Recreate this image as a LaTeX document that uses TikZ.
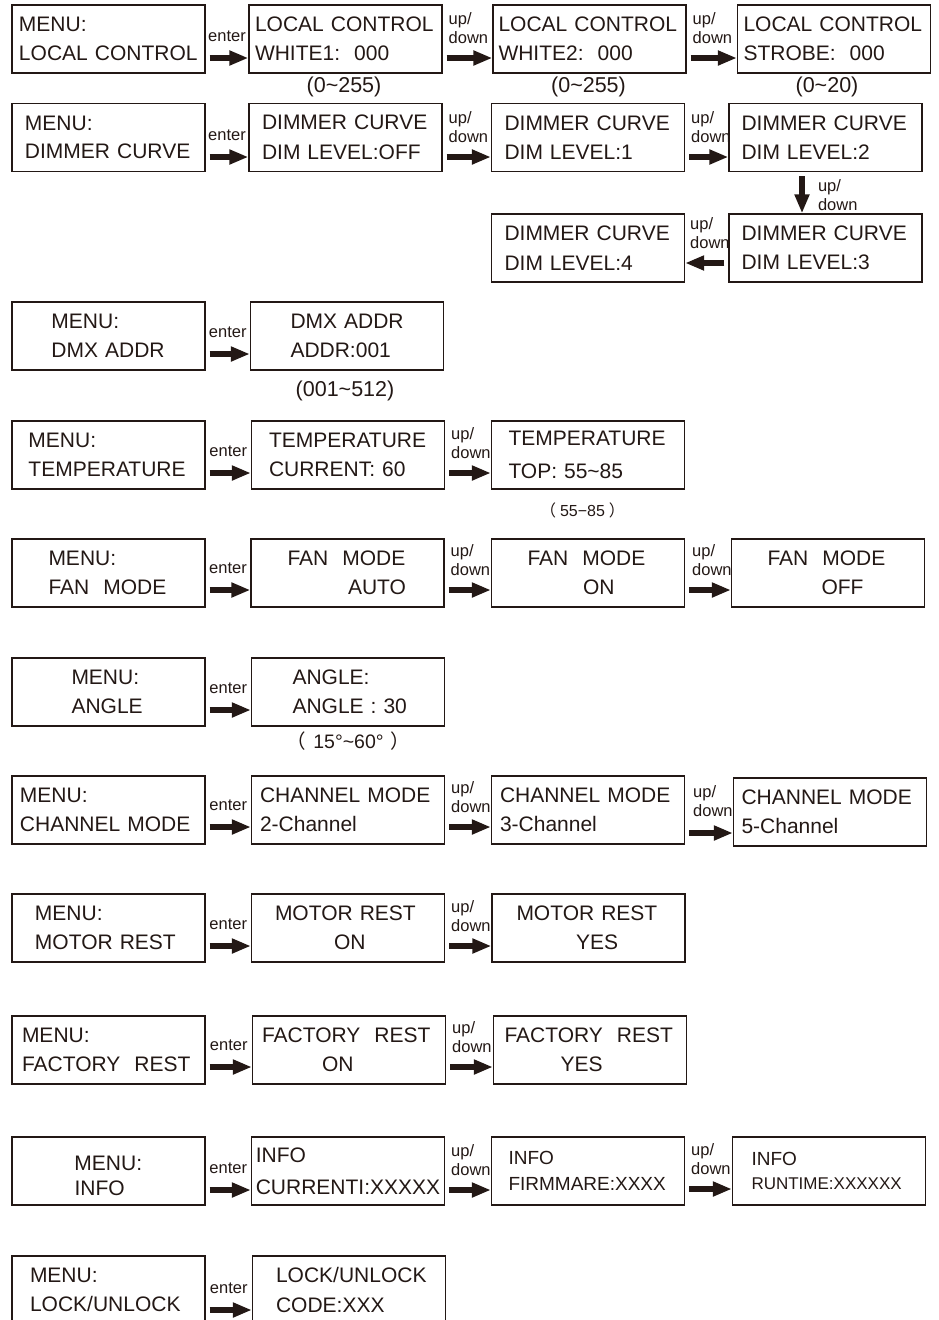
\documentclass[tikz,border=0pt]{standalone}
\usepackage{fontspec}
\setmainfont{Liberation Sans}
\newfontfamily\cjk{Noto Sans CJK SC}
\usetikzlibrary{arrows.meta,positioning,calc}
\definecolor{ink}{HTML}{231815}

\begin{document}
\begin{tikzpicture}[x=1pt,y=-1pt,on grid,
    screen/.style={draw=ink,line width=1.3pt,text=ink,inner xsep=0pt,inner ysep=0pt,
      text width=193pt,minimum height=68pt,align=left,font=\fontsize{21}{29.5}\selectfont},
    fatarrow/.style={draw=ink,line width=6pt,-{Triangle[length=19pt,width=14pt]},shorten <=4pt},
    hint/.style={text=ink,inner sep=0pt,align=left,font=\fontsize{16.5}{19}\selectfont},
    rangetext/.style={text=ink,inner sep=0pt,anchor=base,font=\fontsize{21.5}{24}\selectfont}]
      \useasboundingbox (0,0) rectangle (939,1320);
      \clip (0,0) rectangle (939,1320);

      \node[screen] (lc0) at (108.5,39) {\hspace*{7pt}MENU:\\\hspace*{7pt}LOCAL CONTROL};
      \node[screen] (lc1) [right=237pt of lc0] {\hspace*{6pt}LOCAL CONTROL\\\hspace*{6pt}WHITE1:\ \ 000};
      \node[screen] (lc2) [right=244pt of lc1] {\hspace*{5.5pt}LOCAL CONTROL\\\hspace*{5.5pt}WHITE2:\ \ 000};
      \node[screen] (lc3) [right=244.5pt of lc2] {\hspace*{6pt}LOCAL CONTROL\\\hspace*{6pt}STROBE:\ \ 000};
      \node[rangetext] (lc1range) at ($(lc1.center)+(-1.5,53)$) {(0\textasciitilde255)};
      \node[rangetext] (lc2range) at ($(lc2.center)+(-1,53)$) {(0\textasciitilde255)};
      \node[rangetext] (lc3range) at ($(lc3.center)+(-7,53)$) {(0\textasciitilde20)};

      \node[screen] (dc0) at (108.5,137.5) {\hspace*{13pt}MENU:\\[-2pt]\hspace*{13pt}DIMMER CURVE};
      \node[screen] (dc1) [right=237pt of dc0] {\hspace*{13pt}DIMMER CURVE\\\hspace*{13pt}DIM LEVEL:OFF};
      \node[screen] (dc2) [right=242.5pt of dc1] {\hspace*{13pt}DIMMER CURVE\\\hspace*{13pt}DIM LEVEL:1};
      \node[screen] (dc3) [right=237.5pt of dc2] {\hspace*{12.5pt}DIMMER CURVE\\\hspace*{12.5pt}DIM LEVEL:2};
      \node[screen] (dc4) [below=110.5pt of dc3] {\hspace*{12.5pt}DIMMER CURVE\\\hspace*{12.5pt}DIM LEVEL:3};
      \node[screen] (dc5) [left=237.5pt of dc4] {\hspace*{13pt}DIMMER CURVE\\\hspace*{13pt}DIM LEVEL:4};

      \node[screen] (dmx0) at (108.5,336) {\hspace*{39.5pt}MENU:\\\hspace*{39.5pt}DMX ADDR};
      \node[screen] (dmx1) [right=238.5pt of dmx0] {\hspace*{40pt}DMX ADDR\\\hspace*{40pt}ADDR:001};
      \node[rangetext] (dmxrange) at ($(dmx1.center)+(-2,60)$) {(001\textasciitilde512)};

      \node[screen] (tp0) at (108.5,455) {\hspace*{16.5pt}MENU:\\\hspace*{16.5pt}TEMPERATURE};
      \node[screen] (tp1) [right=239.5pt of tp0] {\hspace*{17.5pt}TEMPERATURE\\\hspace*{17.5pt}CURRENT: 60};
      \node[screen] (tp2) [right=240pt of tp1] {\hspace*{17pt}TEMPERATURE\\[3pt]\hspace*{17pt}TOP: 55\textasciitilde85};
      \node[rangetext,font=\fontsize{16}{18}\selectfont] (tprange) at ($(tp2.center)+(-5.5,61.7)$) {{\cjk （}\hspace{4pt}55−85\hspace{4pt}{\cjk ）}};

      \node[screen] (fan0) at (108.5,573) {\hspace*{36.5pt}MENU:\\\hspace*{36.5pt}FAN\ \ MODE};
      \node[screen] (fan1) [right=239pt of fan0] {\hspace*{36.5pt}FAN\ \ MODE\\\hspace*{97pt}AUTO};
      \node[screen] (fan2) [right=240.5pt of fan1] {\hspace*{36pt}FAN\ \ MODE\\\hspace*{91.5pt}ON};
      \node[screen] (fan3) [right=240pt of fan2] {\hspace*{36pt}FAN\ \ MODE\\\hspace*{90pt}OFF};

      \node[screen] (ang0) at (108.5,692) {\hspace*{59.5pt}MENU:\\\hspace*{59.5pt}ANGLE};
      \node[screen] (ang1) [right=239.5pt of ang0] {\hspace*{41pt}ANGLE:\\\hspace*{41pt}ANGLE : 30};
      \node[rangetext,font=\fontsize{19.5}{22}\selectfont] (angrange) at ($(ang1.center)+(0.5,56.3)$) {{\cjk （}\hspace{7pt}15°\textasciitilde60°\hspace{7pt}{\cjk ）}};

      \node[screen] (ch0) at (108.5,810) {\hspace*{8pt}MENU:\\\hspace*{8pt}CHANNEL MODE};
      \node[screen] (ch1) [right=239.5pt of ch0] {\hspace*{8.5pt}CHANNEL MODE\\\hspace*{8.5pt}2-Channel};
      \node[screen] (ch2) [right=240pt of ch1] {\hspace*{8.5pt}CHANNEL MODE\\\hspace*{8.5pt}3-Channel};
      \node[screen,yshift=-2pt] (ch3) [right=242pt of ch2] {\hspace*{8pt}CHANNEL MODE\\\hspace*{8pt}5-Channel};

      \node[screen] (mr0) at (108.5,928) {\hspace*{23pt}MENU:\\\hspace*{23pt}MOTOR REST};
      \node[screen] (mr1) [right=239.5pt of mr0] {\hspace*{23.5pt}MOTOR REST\\\hspace*{82.5pt}ON};
      \node[screen] (mr2) [right=240.5pt of mr1] {\hspace*{24.5pt}MOTOR REST\\\hspace*{84pt}YES};

      \node[screen] (fr0) at (108.5,1050) {\hspace*{10pt}MENU:\\\hspace*{10pt}FACTORY\ \ REST};
      \node[screen] (fr1) [right=240.5pt of fr0] {\hspace*{9.5pt}FACTORY\ \ REST\\\hspace*{69.5pt}ON};
      \node[screen] (fr2) [right=241pt of fr1] {\hspace*{11pt}FACTORY\ \ REST\\\hspace*{67pt}YES};

      \node[screen] (info0) at (108.5,1171) {\hspace*{62.5pt}\rule{0pt}{24pt}MENU:\\[-5pt]\hspace*{62.5pt}INFO};
      \node[screen] (info1) [right=239.5pt of info0] {\hspace*{4.3pt}INFO\\[2.5pt]\hspace*{4.3pt}CURRENTI:XXXXX};
      \node[screen,font=\fontsize{19}{26.7}\selectfont] (info2) [right=240pt of info1] {\hspace*{17pt}INFO\\\hspace*{17pt}FIRMMARE:XXXX};
      \node[screen,font=\fontsize{19}{24}\selectfont] (info3) [right=241pt of info2] {\hspace*{19pt}INFO\\\hspace*{19pt}{\fontsize{17}{24}\selectfont RUNTIME:XXXXXX}};

      \node[screen] (lk0) at (108.5,1290) {\hspace*{18pt}MENU:\\\hspace*{18pt}LOCK/UNLOCK};
      \node[screen] (lk1) [right=240.5pt of lk0] {\hspace*{23.5pt}LOCK/UNLOCK\\\hspace*{23.5pt}CODE:XXX};

      \draw[fatarrow] ($(lc0.east)+(0,19)$) -- ($(lc1.west)+(0,19)$) node[hint,midway,anchor=south,yshift=13pt] {enter};
      \draw[fatarrow] ($(lc1.east)+(0,19)$) -- ($(lc2.west)+(0,19)$) node[hint,pos=0,anchor=south west,xshift=3pt,yshift=11pt] {up/\\down};
      \draw[fatarrow] ($(lc2.east)+(0,19)$) -- ($(lc3.west)+(0,19)$) node[hint,pos=0,anchor=south west,xshift=3pt,yshift=11pt] {up/\\down};

      \draw[fatarrow] ($(dc0.east)+(0,19.5)$) -- ($(dc1.west)+(0,19.5)$) node[hint,midway,anchor=south,yshift=13pt] {enter};
      \draw[fatarrow] ($(dc1.east)+(0,19.5)$) -- ($(dc2.west)+(0,19.5)$) node[hint,pos=0,anchor=south west,xshift=3pt,yshift=11pt] {up/\\down};
      \draw[fatarrow] ($(dc2.east)+(0,19.5)$) -- ($(dc3.west)+(0,19.5)$) node[hint,pos=0,anchor=south west,xshift=3pt,yshift=11pt] {up/\\down};
      \draw[fatarrow] ($(dc3.south)+(-23.5,0)$) -- ($(dc4.north)+(-23.5,0)$) node[hint,pos=0,anchor=north west,xshift=13pt,yshift=-4pt] {up/\\down};
      \draw[fatarrow] ($(dc4.west)+(0,15)$) -- ($(dc5.east)+(0,15)$) node[hint,pos=1,anchor=south west,xshift=2pt,yshift=11pt] {up/\\down};

      \draw[fatarrow] ($(dmx0.east)+(0,18)$) -- ($(dmx1.west)+(0,18)$) node[hint,midway,anchor=south,yshift=13pt] {enter};

      \draw[fatarrow] ($(tp0.east)+(0,18)$) -- ($(tp1.west)+(0,18)$) node[hint,midway,anchor=south,yshift=13pt] {enter};
      \draw[fatarrow] ($(tp1.east)+(0,18)$) -- ($(tp2.west)+(0,18)$) node[hint,pos=0,anchor=south west,xshift=3pt,yshift=11pt] {up/\\down};

      \draw[fatarrow] ($(fan0.east)+(0,17)$) -- ($(fan1.west)+(0,17)$) node[hint,midway,anchor=south,yshift=13pt] {enter};
      \draw[fatarrow] ($(fan1.east)+(0,17)$) -- ($(fan2.west)+(0,17)$) node[hint,pos=0,anchor=south west,xshift=3pt,yshift=11pt] {up/\\down};
      \draw[fatarrow] ($(fan2.east)+(0,17)$) -- ($(fan3.west)+(0,17)$) node[hint,pos=0,anchor=south west,xshift=4pt,yshift=11pt] {up/\\down};

      \draw[fatarrow] ($(ang0.east)+(0,18)$) -- ($(ang1.west)+(0,18)$) node[hint,midway,anchor=south,yshift=13pt] {enter};

      \draw[fatarrow] ($(ch0.east)+(0,17)$) -- ($(ch1.west)+(0,17)$) node[hint,midway,anchor=south,yshift=13pt] {enter};
      \draw[fatarrow] ($(ch1.east)+(0,17)$) -- ($(ch2.west)+(0,17)$) node[hint,pos=0,anchor=south west,xshift=3pt,yshift=11pt] {up/\\down};
      \draw[fatarrow] ($(ch2.east)+(0,23)$) -- ($(ch3.west)+(0,21)$) node[hint,pos=0,anchor=south west,xshift=5pt,yshift=13pt] {up/\\down};

      \draw[fatarrow] ($(mr0.east)+(0,18)$) -- ($(mr1.west)+(0,18)$) node[hint,midway,anchor=south,yshift=13pt] {enter};
      \draw[fatarrow] ($(mr1.east)+(0,18)$) -- ($(mr2.west)+(0,18)$) node[hint,pos=0,anchor=south west,xshift=3pt,yshift=11pt] {up/\\down};

      \draw[fatarrow] ($(fr0.east)+(0,17)$) -- ($(fr1.west)+(0,17)$) node[hint,midway,anchor=south,yshift=13pt] {enter};
      \draw[fatarrow] ($(fr1.east)+(0,17)$) -- ($(fr2.west)+(0,17)$) node[hint,pos=0,anchor=south west,xshift=3pt,yshift=11pt] {up/\\down};

      \draw[fatarrow] ($(info0.east)+(0,19)$) -- ($(info1.west)+(0,19)$) node[hint,midway,anchor=south,yshift=13pt] {enter};
      \draw[fatarrow] ($(info1.east)+(0,19)$) -- ($(info2.west)+(0,19)$) node[hint,pos=0,anchor=south west,xshift=3pt,yshift=11pt] {up/\\down};
      \draw[fatarrow] ($(info2.east)+(0,18)$) -- ($(info3.west)+(0,18)$) node[hint,pos=0,anchor=south west,xshift=3pt,yshift=11pt] {up/\\down};

      \draw[fatarrow] ($(lk0.east)+(0,20)$) -- ($(lk1.west)+(0,20)$) node[hint,midway,anchor=south,yshift=13pt] {enter};
\end{tikzpicture}
\end{document}
